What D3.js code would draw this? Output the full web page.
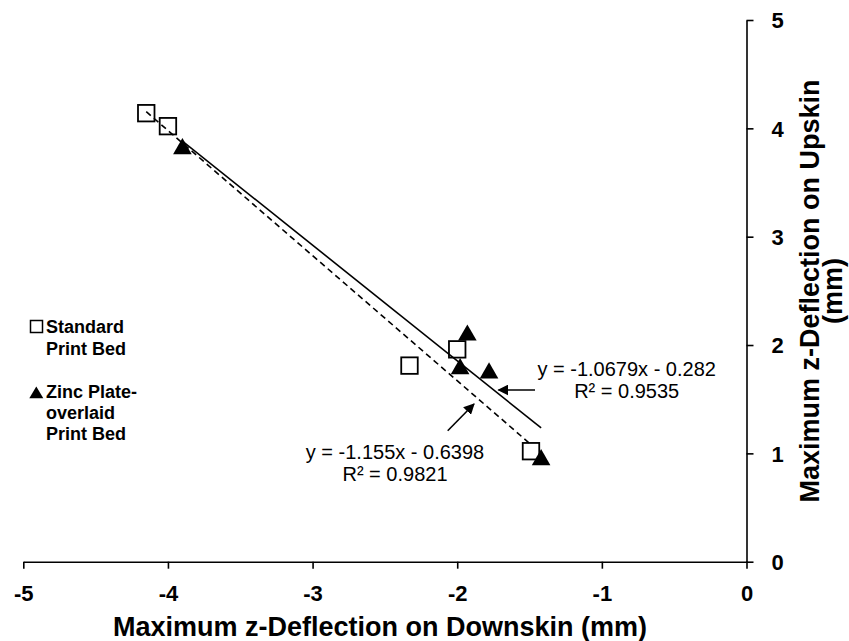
<!DOCTYPE html>
<html>
<head>
<meta charset="utf-8">
<script src="https://cdn.jsdelivr.net/npm/d3@7"></script>
<style>
  html, body { margin: 0; padding: 0; background: #fff; }
  svg { display: block; font-family: "Liberation Sans", Arial, sans-serif; }
</style>
</head>
<body>
<svg id="chart" width="849" height="641"></svg>
<script>
// ---- Data ----
const xTicks = [-5, -4, -3, -2, -1, 0];
const yTicks = [0, 1, 2, 3, 4, 5];
const standardX = [-4.15, -4.00, -2.33, -2.00, -1.49];
const standardY = [4.14, 4.02, 1.81, 1.96, 1.02];
const zincX = [-3.90, -1.93, -1.98, -1.78, -1.42];
const zincY = [3.82, 2.10, 1.79, 1.75, 0.95];
const standardFit = [-1.155, -0.6398];   // slope, intercept
const zincFit = [-1.0679, -0.282];
const standardEq = ["y = -1.155x - 0.6398", "R² = 0.9821"];
const zincEq = ["y = -1.0679x - 0.282", "R² = 0.9535"];
const legendStandard = ["Standard", "Print Bed"];
const legendZinc = ["Zinc Plate-", "overlaid", "Print Bed"];
const xTitle = "Maximum z-Deflection on Downskin (mm)";
const yTitle = ["Maximum z-Deflection on Upskin", "(mm)"];

// ---- Layout ----
const svg = d3.select("#chart");
svg.append("rect").attr("width", 849).attr("height", 641).attr("fill", "#fff");
const x = d3.scaleLinear().domain([-5, 0]).range([23.3, 746.5]);
const y = d3.scaleLinear().domain([0, 5]).range([561.7, 20]);

// Axes
const xAxis = d3.axisBottom(x).tickValues(xTicks).tickSize(7).tickSizeOuter(0).tickPadding(17)
  .tickFormat(d => d === 0 ? "0" : "-" + Math.abs(d));
const gx = svg.append("g").attr("transform", `translate(0,${y(0)})`).call(xAxis);
const yAxis = d3.axisRight(y).tickValues(yTicks).tickSize(7).tickSizeOuter(0).tickPadding(18)
  .tickFormat(d3.format("d"));
const gy = svg.append("g").attr("transform", `translate(${x(0)},0)`).call(yAxis);
[gx, gy].forEach(g => {
  g.attr("font-size", null).attr("font-family", null);
  g.selectAll("path.domain").attr("stroke", "#000").attr("stroke-width", 1.6);
  g.selectAll(".tick line").attr("stroke", "#000").attr("stroke-width", 1.6);
  g.selectAll(".tick text").attr("fill", "#000")
    .style("font-size", "22px").style("font-weight", "bold")
    .style("font-family", "'Liberation Sans', Arial, sans-serif");
});
gy.selectAll(".tick text").attr("dy", "0.36em");

// Axis titles
svg.append("text").attr("x", 380).attr("y", 636).attr("text-anchor", "middle")
  .style("font-size", "27px").style("font-weight", "bold").text(xTitle);
yTitle.forEach((t, i) => {
  svg.append("text")
    .attr("transform", `translate(${819 + i * 23},291) rotate(-90)`)
    .attr("text-anchor", "middle").style("font-size", "27px").style("font-weight", "bold").text(t);
});

// Markers: squares (standard)
const sq = 16.5;
svg.append("g").selectAll("rect").data(d3.zip(standardX, standardY)).join("rect")
  .attr("x", d => x(d[0]) - sq / 2).attr("y", d => y(d[1]) - sq / 2)
  .attr("width", sq).attr("height", sq)
  .attr("fill", "none").attr("stroke", "#000").attr("stroke-width", 1.8);

// Trendlines
function fitLine(xs, fit) {
  const x0 = d3.min(xs), x1 = d3.max(xs);
  return [[x0, fit[0] * x0 + fit[1]], [x1, fit[0] * x1 + fit[1]]];
}
const line = d3.line().x(d => x(d[0])).y(d => y(d[1]));
svg.append("path").attr("d", line(fitLine(standardX, standardFit)))
  .attr("stroke", "#000").attr("stroke-width", 1.6).attr("fill", "none")
  .attr("stroke-dasharray", "6,4");
svg.append("path").attr("d", line(fitLine(zincX, zincFit)))
  .attr("stroke", "#000").attr("stroke-width", 1.6).attr("fill", "none");

// Markers: triangles (zinc)
const tri = d3.symbol().type(d3.symbolTriangle).size(150);
svg.append("g").selectAll("path").data(d3.zip(zincX, zincY)).join("path")
  .attr("d", tri)
  .attr("transform", d => `translate(${x(d[0])},${y(d[1]) + 1})`)
  .attr("fill", "#000");

// Equation annotations
function eqText(lines, cx, by) {
  lines.forEach((t, i) => {
    svg.append("text").attr("x", cx).attr("y", by + i * 22).attr("text-anchor", "middle")
      .style("font-size", "20px").attr("fill", "#000").text(t);
  });
}
eqText(zincEq, 626.7, 376);
eqText(standardEq, 395, 459);

// Arrows
const defs = svg.append("defs");
defs.append("marker").attr("id", "ah").attr("viewBox", "0 0 10 10").attr("refX", 9).attr("refY", 5)
  .attr("markerWidth", 11).attr("markerHeight", 11).attr("markerUnits", "userSpaceOnUse")
  .attr("orient", "auto")
  .append("path").attr("d", "M0,0 L10,5 L0,10 Z").attr("fill", "#000");
function arrow(from, to) {
  svg.append("line").attr("x1", from[0]).attr("y1", from[1]).attr("x2", to[0]).attr("y2", to[1])
    .attr("stroke", "#000").attr("stroke-width", 1.6).attr("marker-end", "url(#ah)");
}
arrow([535, 390], [498.5, 390]);
arrow([447.7, 430.7], [474, 404]);

// Legend
const lg = svg.append("g").style("font-size", "18px").style("font-weight", "bold").attr("fill", "#000");
lg.append("rect").attr("x", 30.5).attr("y", 320.5).attr("width", 12).attr("height", 12)
  .attr("fill", "none").attr("stroke", "#000").attr("stroke-width", 1.5);
legendStandard.forEach((t, i) => lg.append("text").attr("x", 46).attr("y", 333 + i * 21.5).text(t));
lg.append("path").attr("d", "M29.3,398.3 L36.3,386.5 L43.3,398.3 Z").attr("fill", "#000");
legendZinc.forEach((t, i) => lg.append("text").attr("x", 46).attr("y", 398 + i * 21.2).text(t));
</script>
</body>
</html>
